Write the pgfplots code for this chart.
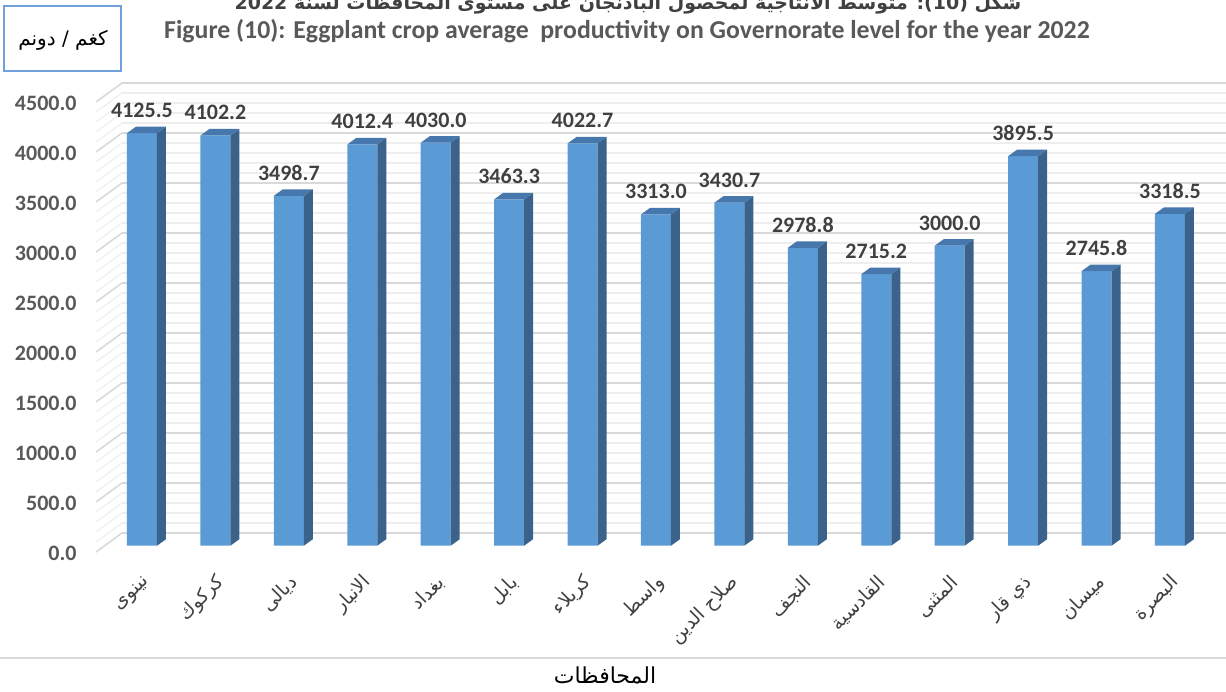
\documentclass[border=0pt]{standalone}
\usepackage{pgfplots}
\usepackage{pgfplotstable}
\pgfplotsset{compat=1.18}
\usepackage{fontspec}
\setmainfont{Carlito}
\newfontfamily\arabicfont[Script=Arabic]{DejaVu Sans}
\TeXXeTstate=1

\definecolor{barfront}{HTML}{5B9BD5}
\definecolor{barside}{HTML}{3A628B}
\definecolor{bartop}{HTML}{4677AD}
\definecolor{gridmaj}{HTML}{D9D9D9}
\definecolor{gridmin}{HTML}{EEEEEE}
\definecolor{ticktext}{HTML}{595959}
\definecolor{valtext}{HTML}{404040}
\definecolor{boxblue}{HTML}{6FA0DC}

% governorate index, average productivity (kg/dunum)
\pgfplotstableread{
x v
0 4125.5
1 4102.2
2 3498.7
3 4012.4
4 4030.0
5 3463.3
6 4022.7
7 3313.0
8 3430.7
9 2978.8
10 2715.2
11 3000.0
12 3895.5
13 2745.8
14 3318.5
}\yielddata

% side and top faces of a bar, drawn at the top-front-centre of each bar;
% meta is mapped 0..4500 -> 0..1000, so height in pt = meta*0.225
\pgfdeclareplotmark{bar3d}{%
  \pgfmathsetmacro\barh{\pgfplotspointmetatransformed*0.225}%
  \pgfpathmoveto{\pgfqpoint{7.5pt}{0pt}}%
  \pgfpathlineto{\pgfqpoint{12pt}{3.25pt}}%
  \pgfpathlineto{\pgfpoint{12pt}{(3.25-\barh)*1pt}}%
  \pgfpathlineto{\pgfpoint{7.5pt}{(-\barh)*1pt}}%
  \pgfpathclose
  \pgfsetfillcolor{barside}%
  \pgfusepath{fill}%
  \pgfpathmoveto{\pgfqpoint{-7.5pt}{0pt}}%
  \pgfpathlineto{\pgfqpoint{-3pt}{3.25pt}}%
  \pgfpathlineto{\pgfqpoint{12pt}{3.25pt}}%
  \pgfpathlineto{\pgfqpoint{7.5pt}{0pt}}%
  \pgfpathclose
  \pgfsetfillcolor{bartop}%
  \pgfusepath{fill}%
}

\begin{document}
\begin{tikzpicture}
\useasboundingbox (0,0) rectangle (613pt,-345.5pt);
\clip (0,0) rectangle (613pt,-345.5pt);

% back wall with grid
\begin{axis}[
    at={(61pt,-266.5pt)}, anchor=south west,
    scale only axis, width=552pt, height=225pt,
    xmin=0, xmax=1, ymin=0, ymax=4500,
    clip=false,
    axis line style={draw=none}, tick style={draw=none},
    xtick=\empty,
    ytick={0,500,...,4500},
    minor ytick={0,100,...,4500},
    ymajorgrids, yminorgrids,
    major grid style={gridmaj, line width=0.75pt},
    minor grid style={gridmin, line width=0.6pt},
    scaled y ticks=false,
    yticklabel style={
        /pgf/number format/fixed,
        /pgf/number format/fixed zerofill,
        /pgf/number format/precision=1,
        /pgf/number format/1000 sep={},
        /pgf/number format/assume math mode=true,
        font=\fontsize{11}{13}\selectfont\bfseries, text=ticktext,
        anchor=east, inner sep=0pt, xshift=-22.5pt, yshift=-10pt},
]
\pgfplotsinvokeforeach{0,100,...,4500}{\draw[gridmin, line width=0.6pt] (axis cs:0,#1) -- ++(-13pt,-9.5pt);}
\pgfplotsinvokeforeach{0,500,...,4500}{\draw[gridmaj, line width=0.75pt] (axis cs:0,#1) -- ++(-13pt,-9.5pt);}
\end{axis}

% bars
\begin{axis}[
    at={(52.64pt,-272.85pt)}, anchor=south west,
    scale only axis, width=550.7pt, height=225pt,
    xmin=-0.5, xmax=14.5, ymin=0, ymax=4500,
    clip=false,
    axis line style={draw=none}, tick style={draw=none},
    ytick=\empty,
    xtick={0,...,14},
    xticklabels={
        {\arabicfont\beginR نينوى\endR},
        {\arabicfont\beginR كركوك\endR},
        {\arabicfont\beginR ديالى\endR},
        {\arabicfont\beginR الانبار\endR},
        {\arabicfont\beginR بغداد\endR},
        {\arabicfont\beginR بابل\endR},
        {\arabicfont\beginR كربلاء\endR},
        {\arabicfont\beginR واسط\endR},
        {\arabicfont\beginR صلاح الدين\endR},
        {\arabicfont\beginR النجف\endR},
        {\arabicfont\beginR القادسية\endR},
        {\arabicfont\beginR المثنى\endR},
        {\arabicfont\beginR ذي قار\endR},
        {\arabicfont\beginR ميسان\endR},
        {\arabicfont\beginR البصرة\endR}},
    xticklabel style={rotate=45, anchor=east, font=\fontsize{9.5}{11}\selectfont, text=valtext, xshift=-6.5pt, yshift=-14pt},
]
\addplot[ybar, bar width=15pt, bar shift=0pt, fill=barfront, draw=none,
    nodes near coords={\pgfmathprintnumber[fixed,fixed zerofill,precision=1,1000 sep={},assume math mode=true]{\pgfplotspointmeta}},
    nodes near coords style={anchor=south, inner sep=0pt, yshift=7.5pt, font=\fontsize{11}{13}\selectfont\bfseries, text=valtext}]
    table[x=x, y=v] {\yielddata};
\addplot[scatter, only marks, mark=bar3d,
    point meta=y, point meta min=0, point meta max=4500,
    scatter/use mapped color={draw=none, fill=none}]
    table[x=x, y=v] {\yielddata};
\end{axis}

% titles and frame
\node[anchor=base, font=\fontsize{9.5}{11}\selectfont\arabicfont\bfseries, text=valtext] at (314pt,-4.5pt)
    {\beginR شكل (10): متوسط الانتاجية لمحصول الباذنجان على مستوى المحافظات لسنة 2022\endR};
\node[anchor=base, font=\fontsize{12.9}{15}\selectfont\bfseries, text=ticktext] at (313.5pt,-19pt)
    {Figure (10): Eggplant crop average\ \ productivity on Governorate level for the year 2022};
\draw[boxblue, line width=1pt] (2pt,-3pt) rectangle (60.5pt,-35.5pt);
\node[font=\fontsize{10}{12}\selectfont\arabicfont] at (31.5pt,-20pt) {\beginR كغم / دونم\endR};
\draw[gridmaj, line width=0.75pt] (0,-329pt) -- (613pt,-329pt);
\node[font=\fontsize{11}{13}\selectfont\arabicfont] at (302.5pt,-337.5pt) {\beginR المحافظات\endR};
\end{tikzpicture}
\end{document}
